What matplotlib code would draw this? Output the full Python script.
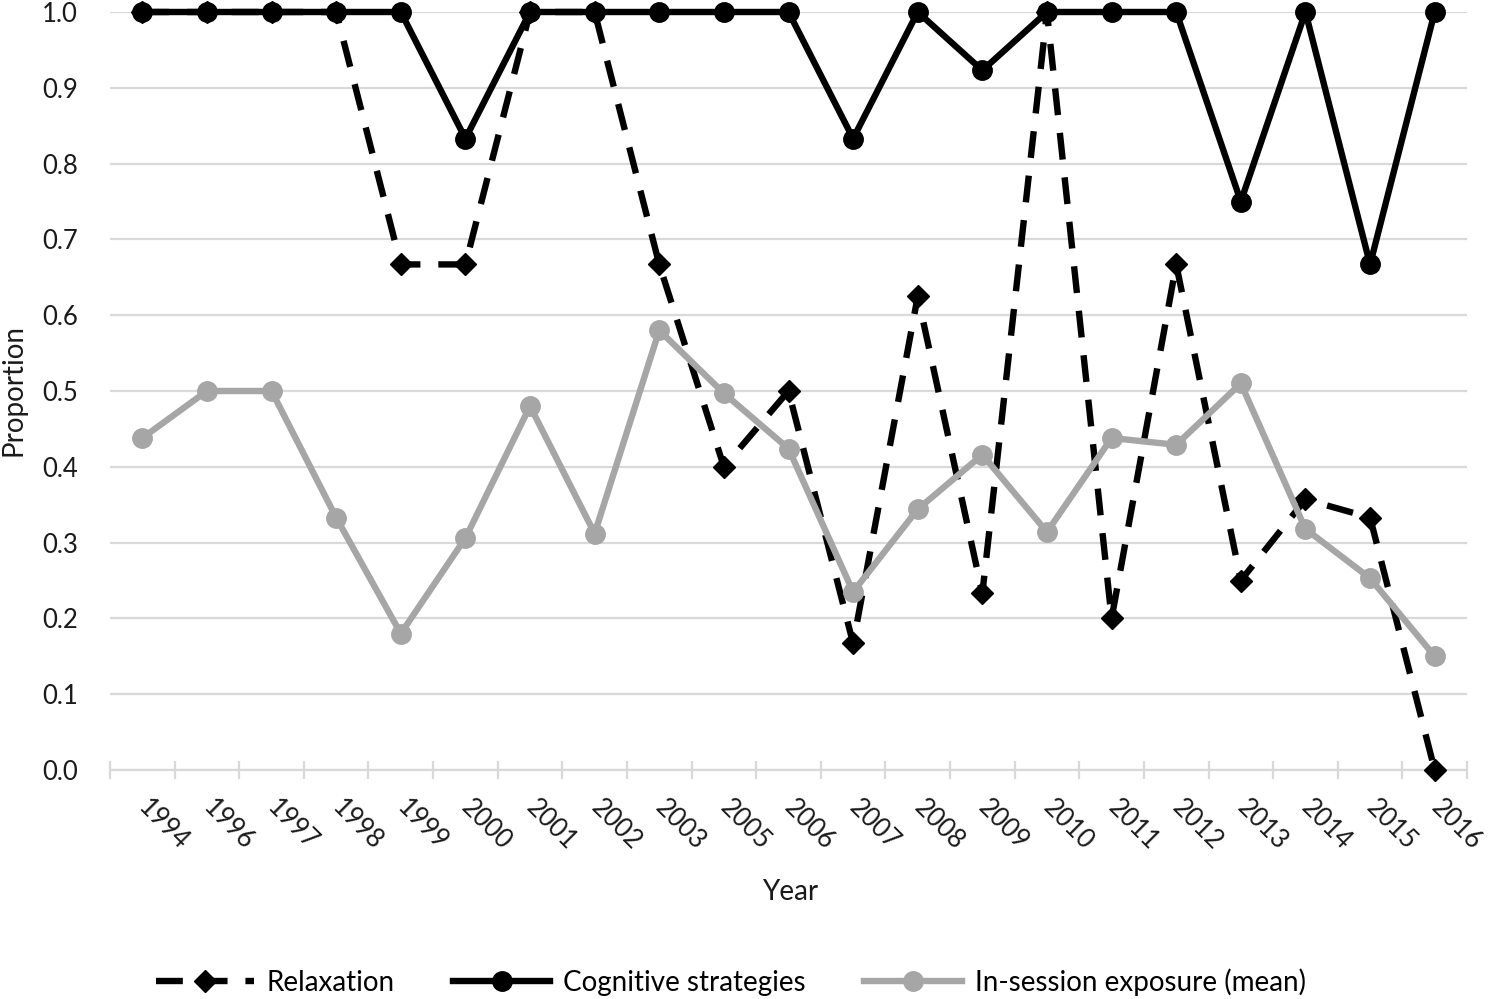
import matplotlib
matplotlib.use("Agg")
import matplotlib.pyplot as plt
import numpy as np

years = ["1994", "1996", "1997", "1998", "1999", "2000", "2001", "2002", "2003", "2005",
         "2006", "2007", "2008", "2009", "2010", "2011", "2012", "2013", "2014", "2015", "2016"]
relaxation = [1.0, 1.0, 1.0, 1.0, 0.667, 0.667, 1.0, 1.0, 0.667, 0.40,
              0.50, 0.167, 0.625, 0.233, 1.0, 0.20, 0.667, 0.25, 0.357, 0.333, 0.0]
cognitive = [1.0, 1.0, 1.0, 1.0, 1.0, 0.833, 1.0, 1.0, 1.0, 1.0,
             1.0, 0.833, 1.0, 0.923, 1.0, 1.0, 1.0, 0.75, 1.0, 0.667, 1.0]
exposure = [0.438, 0.50, 0.50, 0.333, 0.18, 0.306, 0.48, 0.312, 0.58, 0.497,
            0.424, 0.235, 0.344, 0.416, 0.314, 0.438, 0.429, 0.51, 0.318, 0.253, 0.15]

plt.rcParams['font.family'] = ['Lato', 'DejaVu Sans']

fig = plt.figure(figsize=(14.88, 9.99), dpi=100)
ax = fig.add_axes([110 / 1488, 1 - 770 / 999, (1467 - 110) / 1488, (770 - 12) / 999])

x = np.arange(len(years))

ax.plot(x, relaxation, color='black', lw=4.6, dashes=(4.2, 2.8), marker='D', markersize=11,
        label='Relaxation', clip_on=False, zorder=3)
ax.plot(x, cognitive, color='black', lw=4.6, marker='o', markersize=14,
        label='Cognitive strategies', clip_on=False, zorder=4)
ax.plot(x, exposure, color='#a6a6a6', lw=4.6, marker='o', markersize=14,
        label='In-session exposure (mean)', clip_on=False, zorder=5)

ax.set_xlim(-0.5, len(years) - 0.5)
ax.set_ylim(0, 1.0)
ax.set_yticks(np.arange(0, 1.01, 0.1))
ax.set_yticklabels([f"{v:.1f}" for v in np.arange(0, 1.01, 0.1)])
ax.grid(axis='y', color='#d9d9d9', lw=1.6, zorder=0)
ax.set_axisbelow(True)

for s in ['top', 'right', 'left']:
    ax.spines[s].set_visible(False)
ax.spines['bottom'].set_color('#d9d9d9')
ax.spines['bottom'].set_linewidth(1.6)

ax.set_xticks(x)
ax.set_xticklabels(years, rotation=-45, ha='left', va='center', rotation_mode='anchor')
ax.set_xticks(np.arange(-0.5, len(years), 1.0), minor=True)
ax.tick_params(axis='x', which='major', length=0, pad=24, labelsize=18.5, labelcolor='#1a1a1a')
ax.tick_params(axis='x', which='minor', length=13, width=1.6, direction='inout', color='#d9d9d9')
ax.tick_params(axis='y', length=0, pad=23, labelsize=18.5, labelcolor='#1a1a1a')

fig.text(790 / 1488, 1 - 892 / 999, 'Year', ha='center', va='center', fontsize=20, color='#1a1a1a')
fig.text(14 / 1488, 1 - 390 / 999, 'Proportion', ha='center', va='center', rotation=90,
         fontsize=20, color='#1a1a1a')

fig.legend(loc='center', bbox_to_anchor=(731 / 1488, 1 - 982 / 999), ncol=3, frameon=False,
           fontsize=20, handlelength=3.5, handletextpad=0.47, columnspacing=2.1)

fig.savefig('out.png', dpi=100)
